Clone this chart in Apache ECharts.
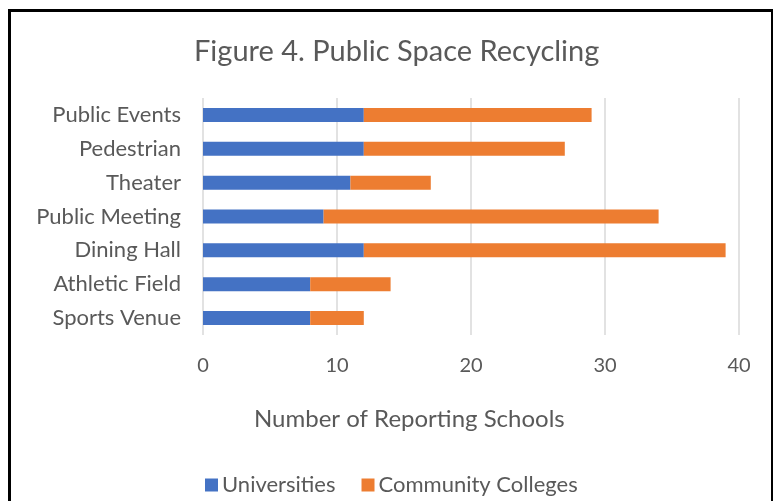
<!DOCTYPE html>
<html>
<head>
<meta charset="utf-8">
<script src="https://cdn.jsdelivr.net/npm/echarts@6/dist/echarts.min.js"></script>
<style>
html,body{margin:0;padding:0;background:#fff;}
#wrap{position:relative;width:773px;height:501px;overflow:hidden;}
#chart{position:absolute;left:0;top:0;width:773px;height:501px;}
#frame{position:absolute;left:8px;top:9px;width:760px;height:520px;border-top:3px solid #000;border-left:3px solid #000;border-right:2px solid #000;pointer-events:none;}
</style>
</head>
<body>
<div id="wrap"><div id="chart"></div><div id="frame"></div></div>
<script>
const categories = ["Sports Venue", "Athletic Field", "Dining Hall", "Public Meeting", "Theater", "Pedestrian", "Public Events"];
const universities = [8, 8, 12, 9, 11, 12, 12];
const communityColleges = [4, 6, 27, 25, 6, 15, 17];
const xTicks = [0, 10, 20, 30, 40];

const font = 'Lato, "Open Sans", sans-serif';
const txt = '#595959';
const chart = echarts.init(document.getElementById('chart'), null, {renderer: 'canvas'});
chart.setOption({
  animation: false,
  backgroundColor: '#ffffff',
  textStyle: {fontFamily: font},
  title: [
    {text: 'Figure 4. Public Space Recycling', left: 189, top: 32,
     textStyle: {fontFamily: font, fontSize: 29, fontWeight: 'normal', color: txt}},
    {text: 'Number of Reporting Schools', left: 249, top: 402,
     textStyle: {fontFamily: font, fontSize: 24, fontWeight: 'normal', color: txt}}
  ],
  legend: {
    left: 200, top: 469,
    itemWidth: 13, itemHeight: 13, itemGap: 26,
    icon: 'rect',
    textStyle: {fontFamily: font, fontSize: 22, color: txt, padding: [0,0,0,-1]},
    data: ['Universities', 'Community Colleges']
  },
  grid: {left: 203, right: 34, top: 98, height: 237, containLabel: false},
  xAxis: {
    type: 'value', min: xTicks[0], max: xTicks[xTicks.length-1], interval: 10,
    axisLine: {show: false}, axisTick: {show: false},
    axisLabel: {fontFamily: font, fontSize: 20, color: txt, margin: 21},
    splitLine: {show: true, lineStyle: {color: '#d9d9d9', width: 1.5}}
  },
  yAxis: {
    type: 'category', data: categories,
    axisLine: {show: false}, axisTick: {show: false},
    axisLabel: {fontFamily: font, fontSize: 22, color: txt, margin: 22}
  },
  series: [
    {name: 'Universities', type: 'bar', stack: 'total', data: universities,
     barWidth: 14, itemStyle: {color: '#4472c4'}},
    {name: 'Community Colleges', type: 'bar', stack: 'total', data: communityColleges,
     barWidth: 14, itemStyle: {color: '#ed7d31'}}
  ]
});
</script>
</body>
</html>
